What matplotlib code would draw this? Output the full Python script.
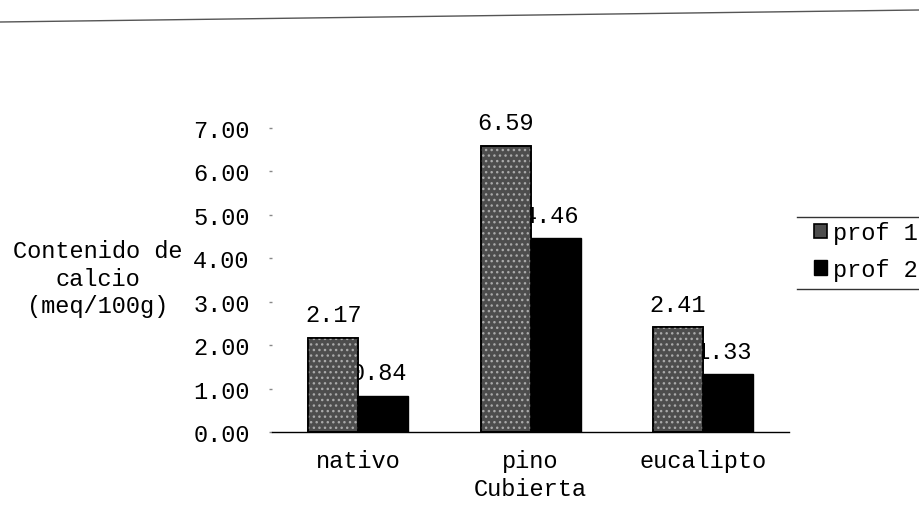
import matplotlib.pyplot as plt
from matplotlib.lines import Line2D
import numpy as np

# Datos: contenido de calcio por cubierta y profundidad
cubiertas = ["nativo", "pino", "eucalipto"]
prof_1 = [2.17, 6.59, 2.41]
prof_2 = [0.84, 4.46, 1.33]
series = ["prof 1", "prof 2"]
ticks_y = [0, 1, 2, 3, 4, 5, 6, 7]

plt.rcParams["font.family"] = "Liberation Mono"
plt.rcParams["hatch.linewidth"] = 1.0
tam_font = 17

fig = plt.figure(figsize=(9.19, 5.06), dpi=100)
ax = fig.add_axes([0.296, 0.1443, 0.5626, 0.6008])

x = np.arange(len(cubiertas))
ancho = 0.29

# prof 1: gris oscuro con punteado claro encima
b1 = ax.bar(x - ancho / 2, prof_1, ancho, color="#4d4d4d", edgecolor="black",
            linewidth=1.2, zorder=3, label=series[0])
ax.bar(x - ancho / 2, prof_1, ancho, fill=False, edgecolor="#aaaaaa",
       hatch="...", linewidth=0, zorder=3.1)
ax.bar(x - ancho / 2, prof_1, ancho, fill=False, edgecolor="black",
       linewidth=1.2, zorder=3.2)
b2 = ax.bar(x + ancho / 2, prof_2, ancho, color="black", edgecolor="black",
            linewidth=1, zorder=2, label=series[1])

# Etiquetas de valor sobre cada barra (las de prof 2 quedan detrás de prof 1)
for xi, v in zip(x - ancho / 2, prof_1):
    ax.annotate(f"{v:.2f}", (xi, v), xytext=(0, 16.5), textcoords="offset points",
                ha="center", va="center", fontsize=tam_font, zorder=4,
                annotation_clip=False)
for xi, v in zip(x + ancho / 2, prof_2):
    ax.annotate(f"{v:.2f}", (xi, v), xytext=(-3, 16.5), textcoords="offset points",
                ha="center", va="center", fontsize=tam_font, zorder=1,
                annotation_clip=False)

ax.set_xlim(-0.5, len(cubiertas) - 0.5)
ax.set_ylim(0, 7)
ax.set_yticks(ticks_y)
ax.set_yticklabels([f"{t:.2f}" for t in ticks_y])
ax.set_xticks(x)
ax.set_xticklabels(cubiertas)

for lado in ["top", "right", "left"]:
    ax.spines[lado].set_visible(False)
ax.spines["bottom"].set_linewidth(1)

ax.tick_params(axis="y", length=2, width=1, color="#888888", pad=14,
               labelsize=tam_font)
ax.tick_params(axis="x", length=0, pad=12, labelsize=tam_font)

ax.set_xlabel("Cubierta", fontsize=tam_font)
ax.xaxis.label.set_va("center")
ax.xaxis.set_label_coords(0.5, -0.187)

fig.text(98 / 919, 1 - 279 / 506, "Contenido de\ncalcio\n(meq/100g)",
         ha="center", va="center", fontsize=tam_font, linespacing=1.25)

# Leyenda a la derecha con líneas arriba y abajo
fig.legend(handles=[b1, b2], labels=series, loc="center left",
           bbox_to_anchor=(802 / 919, 1 - 252 / 506), frameon=False,
           fontsize=tam_font, handlelength=0.55, handleheight=0.55,
           handletextpad=0.25, labelspacing=0.58, borderpad=0)
fig.add_artist(Line2D([797 / 919, 1.0], [1 - 218 / 506, 1 - 218 / 506],
                      color="#333333", linewidth=1))
fig.add_artist(Line2D([797 / 919, 1.0], [1 - 290 / 506, 1 - 290 / 506],
                      color="#333333", linewidth=1))

# Línea de la hoja en la parte superior
fig.add_artist(Line2D([0, 1], [1 - 23 / 506, 1 - 11 / 506],
                      color="#555555", linewidth=1))

plt.savefig("out.png", dpi=100)
